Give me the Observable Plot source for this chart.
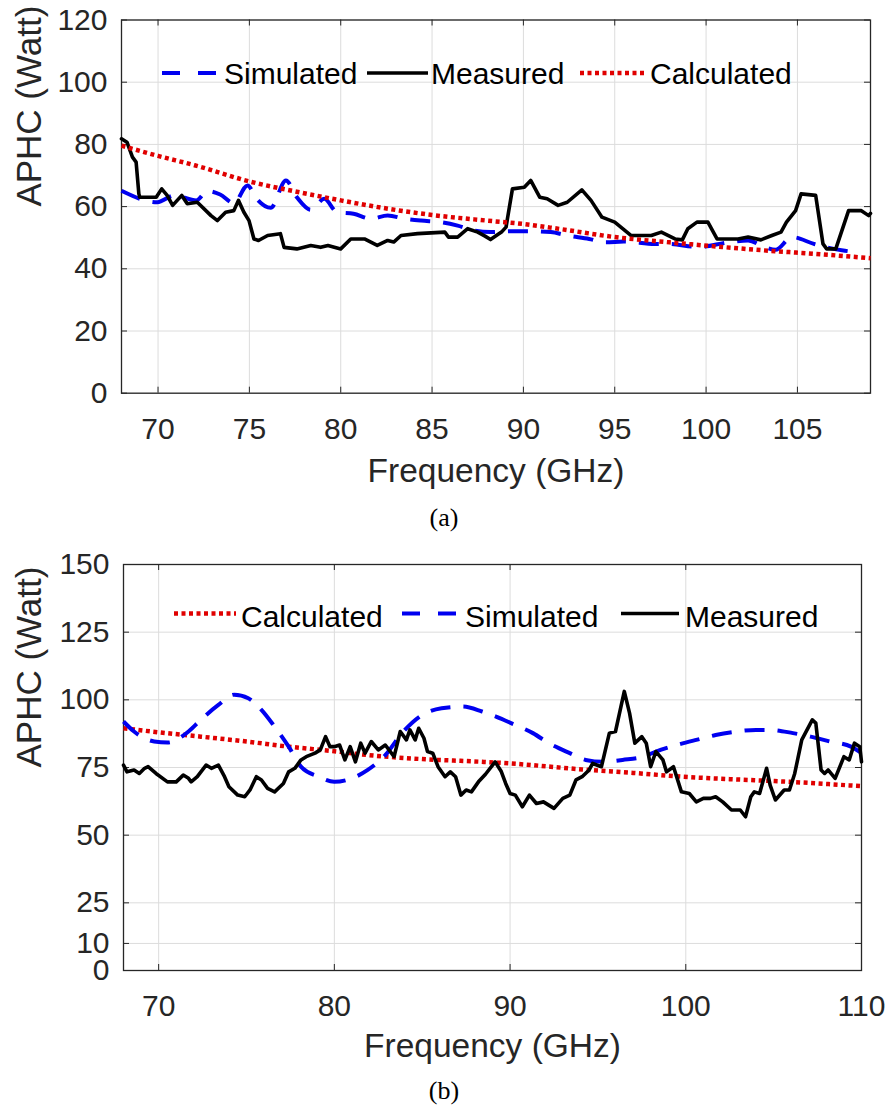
<!DOCTYPE html>
<html><head><meta charset="utf-8">
<script src="https://cdn.jsdelivr.net/npm/d3@7"></script>
<script src="https://cdn.jsdelivr.net/npm/@observablehq/plot@0.6"></script>
<style>
body{margin:0;background:#fff;}
#wrap{position:relative;width:888px;height:1112px;overflow:hidden;}
.cap{position:absolute;left:0;width:888px;text-align:center;font-family:"Liberation Serif","DejaVu Serif",serif;font-size:26px;color:#000;line-height:1;}
</style></head><body><div id="wrap"></div>
<script>
// ---------- Chart (a) data ----------
const aXTicks = [70, 75, 80, 85, 90, 95, 100, 105];
const aYTicks = [0, 20, 40, 60, 80, 100, 120];
const aSimF = [68.0, 69.96, 70.9, 72.1, 72.7, 73.4, 74.15, 74.9, 75.4, 76.17, 77.0, 77.6, 78.36, 79.1, 79.8, 80.7, 81.65, 82.57, 83.5, 84.4, 85.5, 86.4, 87.3, 88.2, 89.5, 90.4, 91.5, 92.4, 93.6, 94.5, 95.5, 97.2, 97.9, 99.6, 101.2, 102.3, 103.2, 103.8, 104.7, 105.9, 106.2, 107.6, 108.3];
const aSimV = [65.1, 61.4, 63.6, 62.0, 65.0, 63.9, 61.1, 66.8, 62.5, 59.6, 68.4, 63.0, 59.0, 62.5, 58.2, 57.7, 56.1, 57.1, 56.1, 55.5, 55.0, 53.9, 52.3, 51.8, 52.1, 52.1, 51.8, 50.7, 49.6, 48.5, 48.8, 48.0, 48.0, 47.0, 48.5, 49.1, 47.0, 46.1, 50.2, 48.0, 47.5, 45.8, 45.3];
const aMeasF = [68.0, 68.3, 68.6, 68.8, 68.95, 69.0, 69.9, 70.2, 70.5, 70.8, 71.05, 71.3, 71.6, 72.15, 72.9, 73.25, 73.7, 74.15, 74.4, 74.7, 74.98, 75.25, 75.5, 76.0, 76.7, 76.9, 77.6, 78.36, 78.9, 79.3, 80.0, 80.55, 81.3, 82.0, 82.57, 82.9, 83.3, 84.2, 85.7, 85.9, 86.4, 86.95, 87.5, 87.9, 88.2, 88.8, 89.05, 89.4, 90.05, 90.4, 90.9, 91.3, 91.9, 92.4, 93.2, 93.7, 94.3, 95.0, 95.9, 97.0, 97.55, 98.3, 98.7, 99.0, 99.5, 100.1, 100.6, 101.75, 102.3, 103.0, 103.6, 104.1, 104.4, 104.9, 105.2, 106.0, 106.4, 106.6, 107.1, 107.8, 108.5, 108.9, 109.0];
const aMeasV = [81.8, 80.7, 75.9, 74.3, 64.1, 63.0, 63.0, 65.7, 63.6, 60.4, 62.0, 63.6, 60.9, 61.4, 57.1, 55.5, 58.2, 58.7, 62.0, 58.2, 55.5, 49.6, 49.1, 50.7, 51.3, 46.9, 46.4, 47.5, 46.9, 47.5, 46.4, 49.6, 49.6, 47.5, 49.1, 48.6, 50.7, 51.3, 51.8, 50.2, 50.2, 52.9, 51.8, 50.5, 49.4, 51.8, 53.4, 65.7, 66.2, 68.4, 63.0, 62.5, 60.4, 61.4, 65.4, 62.0, 56.6, 55.0, 50.7, 50.7, 51.8, 49.6, 49.3, 52.9, 55.0, 55.0, 49.6, 49.6, 50.2, 49.3, 50.7, 51.8, 55.0, 58.7, 64.1, 63.6, 48.0, 46.4, 46.4, 58.7, 58.7, 57.1, 57.8];
const aCalcF = [68, 70, 72, 75, 78, 80, 82.6, 85, 88, 90, 92, 95, 98, 100.5, 103, 106, 109];
const aCalcV = [79.6, 76.3, 73.3, 68.1, 64.3, 62.0, 59.3, 57.3, 55.5, 54.4, 52.8, 50.2, 48.5, 47.2, 46.0, 44.8, 43.4];

// ---------- Chart (b) data ----------
const bXTicks = [70, 80, 90, 100, 110];
const bYTicks = [0, 10, 25, 50, 75, 100, 125, 150];
const bCalcF = [68, 70, 72.4, 75, 77.4, 80, 81.9, 85, 88.4, 90, 94.1, 97, 99.8, 102.5, 105.6, 110];
const bCalcV = [89.5, 88.0, 86.4, 84.6, 82.7, 81.0, 79.6, 78.1, 77.1, 76.5, 74.3, 73.0, 71.6, 70.7, 69.8, 68.1];
const bSimF = [68.0, 68.6, 69.75, 70.5, 71.7, 72.4, 73.4, 74.3, 75.1, 75.85, 76.6, 77.4, 78.1, 79.1, 80.0, 81.0, 81.9, 82.9, 83.85, 85.0, 86.1, 87.3, 88.4, 89.2, 90.3, 91.3, 92.2, 93.4, 94.3, 95.3, 96.4, 97.6, 98.3, 99.5, 100.6, 101.7, 102.9, 104.0, 104.8, 106.1, 107.1, 108.2, 109.4, 110];
const bSimV = [92.0, 88.3, 84.6, 84.2, 88.3, 92.6, 98.1, 101.9, 100.6, 96.3, 90.1, 82.7, 75.3, 71.6, 69.7, 71.0, 74.1, 79.6, 87.7, 94.4, 96.9, 97.5, 95.7, 93.8, 90.7, 87.7, 84.0, 80.3, 77.8, 77.1, 77.8, 79.0, 80.9, 83.3, 85.2, 87.0, 88.3, 88.9, 88.9, 87.7, 86.4, 84.6, 82.7, 80.3];
const bMeasF = [68.0, 68.2, 68.6, 68.9, 69.2, 69.4, 69.85, 70.5, 71.0, 71.4, 71.7, 71.85, 72.2, 72.7, 73.0, 73.4, 73.75, 74.0, 74.5, 74.9, 75.2, 75.56, 75.85, 76.2, 76.6, 77.1, 77.4, 77.75, 78.1, 78.4, 78.9, 79.2, 79.5, 79.75, 80.0, 80.3, 80.6, 80.9, 81.2, 81.5, 81.75, 82.1, 82.5, 82.9, 83.4, 83.75, 84.1, 84.3, 84.6, 84.8, 85.1, 85.3, 85.6, 85.9, 86.3, 86.6, 86.9, 87.2, 87.5, 87.8, 88.2, 88.6, 89.15, 89.5, 89.75, 90.0, 90.3, 90.7, 91.1, 91.5, 91.9, 92.2, 92.5, 93.0, 93.4, 93.75, 94.1, 94.5, 94.7, 95.2, 95.65, 96.0, 96.5, 96.8, 97.1, 97.5, 97.75, 98.0, 98.3, 98.7, 98.9, 99.3, 99.75, 100.2, 100.6, 101.0, 101.4, 101.7, 102.1, 102.6, 103.1, 103.4, 103.7, 103.9, 104.2, 104.6, 104.8, 105.1, 105.6, 105.9, 106.2, 106.6, 107.2, 107.4, 107.7, 107.9, 108.1, 108.5, 109.0, 109.3, 109.6, 109.9, 110.0];
const bMeasV = [75.9, 73.4, 74.1, 72.8, 74.7, 75.3, 72.8, 69.7, 69.7, 72.2, 71.0, 69.7, 71.6, 75.9, 74.7, 75.9, 71.6, 67.9, 64.8, 64.2, 66.7, 71.6, 70.4, 67.3, 66.0, 69.1, 73.4, 74.7, 77.8, 79.0, 80.3, 81.5, 86.4, 82.7, 82.7, 83.3, 77.8, 82.7, 77.1, 84.0, 80.3, 84.6, 81.5, 83.3, 79.0, 88.3, 85.2, 88.9, 85.2, 89.5, 85.8, 80.9, 80.3, 75.3, 71.6, 73.4, 71.6, 64.8, 66.7, 66.0, 69.7, 72.5, 77.1, 73.5, 69.1, 65.4, 64.8, 60.5, 64.8, 61.7, 62.3, 61.1, 59.9, 63.6, 64.8, 70.4, 71.6, 74.1, 76.5, 75.3, 87.7, 88.3, 103.1, 95.1, 84.0, 86.4, 84.0, 75.3, 80.9, 77.8, 73.4, 75.3, 66.0, 65.4, 62.3, 63.6, 63.6, 64.2, 62.3, 59.3, 59.3, 56.8, 64.2, 66.0, 65.4, 74.7, 68.5, 63.0, 66.7, 66.7, 72.8, 85.2, 92.6, 91.4, 74.1, 72.8, 74.1, 71.0, 79.0, 77.8, 84.0, 82.7, 77.1];

const seriesLabels = {sim: "Simulated", meas: "Measured", calc: "Calculated"};
const xLabel = "Frequency (GHz)";
const yLabel = "APHC (Watt)";

const zip = (fs, vs) => fs.map((f, i) => ({f, v: vs[i]}));

const STY = {
  sim:  {stroke: "#0000f0", strokeWidth: 4,   strokeDasharray: "20,13", curve: "monotone-x"},
  meas: {stroke: "#000000", strokeWidth: 3.6, curve: "linear"},
  calc: {stroke: "#e00000", strokeWidth: 4.5, strokeDasharray: "4,3.5", curve: "monotone-x"}
};
const AXIS = "#262626";
const GRID = "#dcdcdc";

function chart({height, mt, mb, ml, mr, xDomain, yDomain, xTicks, yTicks, order, data, labelDy, labelDx, legend}) {
  const W = 888;
  const innerH = height - mt - mb;
  const innerW = W - ml - mr;
  const marks = [
    Plot.gridX(xTicks, {stroke: GRID, strokeOpacity: 1, strokeWidth: 1}),
    Plot.gridY(yTicks, {stroke: GRID, strokeOpacity: 1, strokeWidth: 1}),
    Plot.frame({stroke: AXIS, strokeWidth: 1.3}),
    Plot.tickX(xTicks, {x: d => d, stroke: AXIS, insetTop: innerH - 6}),
    Plot.tickX(xTicks, {x: d => d, stroke: AXIS, insetBottom: innerH - 6}),
    Plot.tickY(yTicks, {y: d => d, stroke: AXIS, insetRight: innerW - 6}),
    Plot.tickY(yTicks, {y: d => d, stroke: AXIS, insetLeft: innerW - 6}),
  ];
  for (const k of order) {
    const s = STY[k];
    marks.push(Plot.line(data[k], {x: "f", y: "v", stroke: s.stroke, strokeWidth: s.strokeWidth,
      strokeDasharray: s.strokeDasharray, curve: s.curve, strokeLinejoin: "round",
      strokeLinecap: k === "meas" ? "round" : "butt"}));
  }
  marks.push(
    Plot.axisX(xTicks, {tickSize: 0, tickPadding: 24, fontSize: 30, label: null, fill: AXIS}),
    Plot.axisY(yTicks, {tickSize: 0, tickPadding: 14, fontSize: 30, label: null, fill: AXIS}),
    Plot.text([xLabel], {text: d => d, frameAnchor: "bottom", dy: labelDy, fontSize: 33.5, lineAnchor: "middle", fill: AXIS}),
    Plot.text([yLabel], {text: d => d, frameAnchor: "left", dx: labelDx, rotate: -90, fontSize: 35, lineAnchor: "middle", fill: AXIS})
  );
  const svg = Plot.plot({
    width: W, height,
    marginTop: mt, marginBottom: mb, marginLeft: ml, marginRight: mr,
    x: {type: "linear", domain: xDomain},
    y: {type: "linear", domain: yDomain},
    style: {fontFamily: "'Liberation Sans', Arial, Helvetica, sans-serif", background: "white", overflow: "visible", color: AXIS},
    marks
  });
  // legend (inside plot area, no box)
  const g = d3.select(svg).append("g").attr("class", "legend").attr("text-anchor", "start");
  for (const it of legend) {
    const s = STY[it.key];
    const ln = g.append("line").attr("x1", it.x1).attr("x2", it.x2).attr("y1", it.y).attr("y2", it.y)
      .attr("stroke", s.stroke).attr("stroke-width", s.strokeWidth);
    if (it.key === "sim") ln.attr("stroke-dasharray", "18,18");
    if (it.key === "calc") ln.attr("stroke-dasharray", "4,3.5");
    g.append("text").attr("x", it.tx).attr("y", it.ty).attr("font-size", 30)
      .attr("text-anchor", "start").attr("fill", "#000").text(seriesLabels[it.key]);
  }
  return svg;
}

const wrap = document.getElementById("wrap");

const svgA = chart({
  height: 500, mt: 19.5, mb: 107.3, ml: 121, mr: 18,
  xDomain: [68, 109], yDomain: [0, 120], xTicks: aXTicks, yTicks: aYTicks,
  order: ["sim", "meas", "calc"],
  data: {sim: zip(aSimF, aSimV), meas: zip(aMeasF, aMeasV), calc: zip(aCalcF, aCalcV)},
  labelDy: 78, labelDx: -92,
  legend: [
    {key: "sim",  x1: 162, x2: 220, y: 73, tx: 224, ty: 84},
    {key: "meas", x1: 367, x2: 428, y: 73, tx: 431, ty: 84},
    {key: "calc", x1: 580, x2: 646, y: 73, tx: 650, ty: 84}
  ]
});
svgA.style.position = "absolute"; svgA.style.left = "0px"; svgA.style.top = "0px";
wrap.appendChild(svgA);

const svgB = chart({
  height: 540, mt: 24, mb: 110, ml: 123, mr: 27,
  xDomain: [68, 110], yDomain: [0, 150], xTicks: bXTicks, yTicks: bYTicks,
  order: ["calc", "sim", "meas"],
  data: {sim: zip(bSimF, bSimV), meas: zip(bMeasF, bMeasV), calc: zip(bCalcF, bCalcV)},
  labelDy: 76, labelDx: -94,
  legend: [
    {key: "calc", x1: 174, x2: 236, y: 73.5, tx: 241, ty: 86.5},
    {key: "sim",  x1: 402, x2: 460, y: 73.5, tx: 465, ty: 86.5},
    {key: "meas", x1: 621, x2: 679, y: 73.5, tx: 685, ty: 86.5}
  ]
});
svgB.style.position = "absolute"; svgB.style.left = "0px"; svgB.style.top = "540px";
wrap.appendChild(svgB);

const capA = document.createElement("div");
capA.className = "cap"; capA.style.top = "505px"; capA.textContent = "(a)";
wrap.appendChild(capA);
const capB = document.createElement("div");
capB.className = "cap"; capB.style.top = "1078px"; capB.textContent = "(b)";
wrap.appendChild(capB);
</script></body></html>
